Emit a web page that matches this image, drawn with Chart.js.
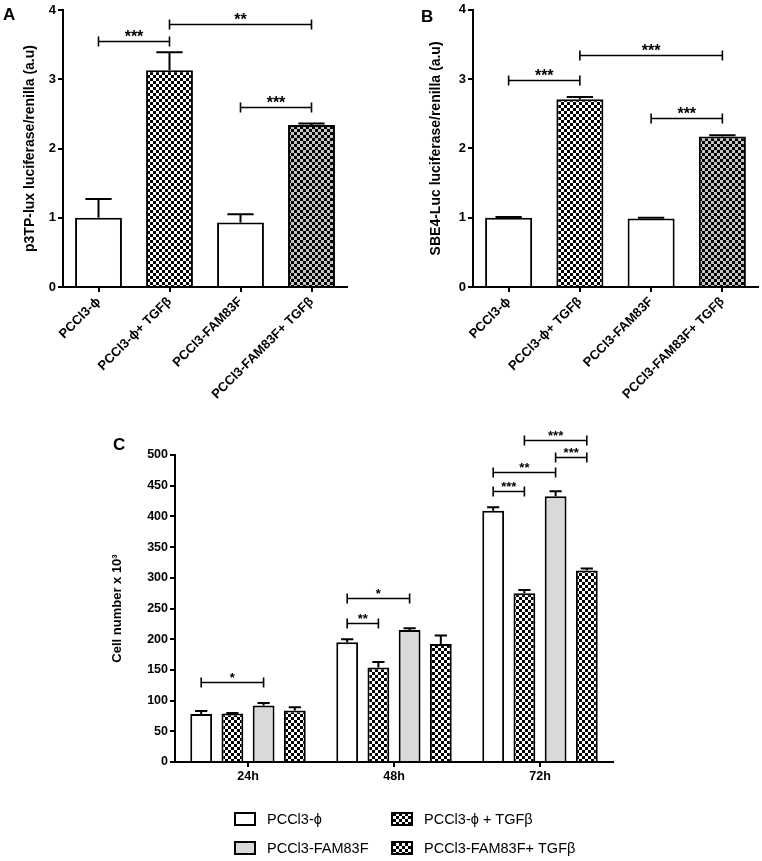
<!DOCTYPE html>
<html>
<head>
<meta charset="utf-8">
<script src="https://cdn.jsdelivr.net/npm/chart.js@4.4.1/dist/chart.umd.min.js"></script>
<style>
  html, body { margin: 0; padding: 0; background: #fff; }
  #wrap { position: relative; width: 762px; height: 861px; overflow: hidden; }
  canvas { position: absolute; }
  .tag { position: absolute; font: bold 17px "Liberation Sans", Arial, sans-serif; color: #000; }
</style>
</head>
<body>
<div id="wrap">
  <canvas id="chartA" width="381" height="450" style="left:0;top:0;width:381px;height:450px"></canvas>
  <canvas id="chartB" width="381" height="450" style="left:381px;top:0;width:381px;height:450px"></canvas>
  <canvas id="chartC" width="762" height="441" style="left:0;top:420px;width:762px;height:441px"></canvas>
  <div class="tag" style="left:3px;top:5px">A</div>
  <div class="tag" style="left:421px;top:7px">B</div>
  <div class="tag" style="left:113px;top:435px">C</div>
</div>
<script>
// ---- data ----
const groupsAB = ["PCCl3-ϕ", "PCCl3-ϕ+ TGFβ", "PCCl3-FAM83F", "PCCl3-FAM83F+ TGFβ"];
const valuesA = [1.00, 3.13, 0.93, 2.34];
const errorsA = [0.27, 0.26, 0.12, 0.02];
const valuesB = [1.00, 2.71, 0.99, 2.17];
const errorsB = [0.01, 0.03, 0.01, 0.02];
// [from, to, height, stars]
const sigA = [[0, 1, 3.55, "***"], [1, 3, 3.80, "**"], [2, 3, 2.60, "***"]];
const sigB = [[0, 1, 2.99, "***"], [1, 3, 3.35, "***"], [2, 3, 2.44, "***"]];

const timesC = ["24h", "48h", "72h"];
const seriesC = ["PCCl3-ϕ", "PCCl3-ϕ + TGFβ", "PCCl3-FAM83F", "PCCl3-FAM83F+ TGFβ"];
const phi = [78, 195, 409];
const phiErr = [5, 5, 6];
const phiTgf = [79, 154, 275];
const phiTgfErr = [1, 9, 5];
const fam = [92, 215, 433];
const famErr = [4, 3, 8];
const famTgf = [84, 192, 312];
const famTgfErr = [5, 14, 3];
// [time, series from, series to, height, stars]
const sigC = [
  [0, 0, 2, 130, "*"],
  [1, 0, 1, 227, "**"],
  [1, 0, 2, 267, "*"],
  [2, 0, 1, 441, "***"],
  [2, 0, 2, 473, "**"],
  [2, 2, 3, 496, "***"],
  [2, 1, 3, 524, "***"]
];

// ---- styles ----
const FONT = '"Liberation Sans", Arial, sans-serif';
Chart.defaults.font.family = FONT;
Chart.defaults.color = '#000';

function checker(light) {
  const c = document.createElement('canvas');
  c.width = 6; c.height = 6;
  const g = c.getContext('2d');
  g.fillStyle = light; g.fillRect(0, 0, 6, 6);
  g.fillStyle = '#000'; g.fillRect(0, 0, 3, 3); g.fillRect(3, 3, 3, 3);
  return g.createPattern(c, 'repeat');
}
const chkWhite = checker('#fff');
const chkGray = checker('#c4c4c4');

// error bars + significance brackets
const annotate = {
  id: 'annotate',
  afterDatasetsDraw(chart, args, opts) {
    const ctx = chart.ctx, y = chart.scales.y;
    ctx.save();
    ctx.strokeStyle = '#000';
    ctx.lineWidth = 2;
    opts.errors.forEach((errs, di) => {
      const meta = chart.getDatasetMeta(di);
      meta.data.forEach((bar, i) => {
        const top = y.getPixelForValue(chart.data.datasets[di].data[i] + errs[i]);
        const half = bar.width * 0.28;
        ctx.beginPath();
        ctx.moveTo(bar.x, bar.y);
        ctx.lineTo(bar.x, top);
        ctx.moveTo(bar.x - half, top);
        ctx.lineTo(bar.x + half, top);
        ctx.stroke();
      });
    });
    ctx.font = 'bold ' + opts.starSize + 'px ' + FONT;
    ctx.fillStyle = '#000';
    ctx.textAlign = 'center';
    ctx.textBaseline = 'alphabetic';
    opts.brackets.forEach(b => {
      const x1 = chart.getDatasetMeta(b.a[0]).data[b.a[1]].x;
      const x2 = chart.getDatasetMeta(b.b[0]).data[b.b[1]].x;
      const py = Math.round(y.getPixelForValue(b.v)) + 0.5;
      ctx.beginPath();
      ctx.lineWidth = 1.6;
      ctx.moveTo(x1, py); ctx.lineTo(x2, py);
      ctx.moveTo(x1, py - 5); ctx.lineTo(x1, py + 5);
      ctx.moveTo(x2, py - 5); ctx.lineTo(x2, py + 5);
      ctx.stroke();
      ctx.fillText(b.t, (x1 + x2) / 2, py + opts.starLift);
    });
    ctx.restore();
  }
};

function axisX(height, fontSize, rotate) {
  return {
    offset: true,
    afterFit(s) { s.height = height; },
    grid: { offset: false, drawOnChartArea: false, drawTicks: true, tickLength: 5, color: '#000', lineWidth: 2 },
    border: { display: true, color: '#000', width: 2 },
    ticks: { autoSkip: false, minRotation: rotate, maxRotation: rotate, padding: 2,
             font: { size: fontSize, weight: 'bold' }, color: '#000' }
  };
}
function axisY(width, max, step, title, titleSize, tickSize) {
  return {
    min: 0, max: max,
    afterFit(s) { s.width = width; },
    grid: { drawOnChartArea: false, drawTicks: true, tickLength: 5, color: '#000', lineWidth: 2 },
    border: { display: true, color: '#000', width: 2 },
    ticks: { stepSize: step, padding: 2, font: { size: tickSize, weight: 'bold' }, color: '#000' },
    title: { display: true, text: title, padding: { top: 0, bottom: 0 }, font: { size: titleSize, weight: 'bold' }, color: '#000' }
  };
}

function luciferaseChart(id, values, errors, sig, title, pad, yWidth) {
  return new Chart(document.getElementById(id), {
    type: 'bar',
    data: {
      labels: groupsAB,
      datasets: [{
        data: values,
        backgroundColor: ['#fff', chkWhite, '#fff', chkGray],
        borderColor: '#000',
        borderWidth: 2,
        borderSkipped: 'bottom',
        barPercentage: 1,
        categoryPercentage: 0.66
      }]
    },
    options: {
      responsive: false,
      animation: false,
      layout: { padding: pad },
      plugins: {
        legend: { display: false },
        tooltip: { enabled: false },
        annotate: {
          errors: [errors],
          brackets: sig.map(([i, j, v, t]) => ({ a: [0, i], b: [0, j], v: v, t: t })),
          starSize: 16,
          starLift: 0
        }
      },
      scales: {
        x: axisX(163, 13, 45),
        y: axisY(yWidth, 4, 1, title, 14, 13)
      }
    },
    plugins: [annotate]
  });
}

luciferaseChart('chartA', valuesA, errorsA, sigA, 'p3TP-lux luciferase/renilla (a.u)',
  { left: 22, top: 10, right: 34, bottom: 0 }, 41);
luciferaseChart('chartB', valuesB, errorsB, sigB, 'SBE4-Luc luciferase/renilla (a.u)',
  { left: 47, top: 9, right: 4, bottom: 0 }, 45);

// legend for panel C, two columns
const legendC = {
  id: 'legendC',
  afterDraw(chart) {
    const ctx = chart.ctx;
    const cols = [235, 392], rows = [393, 422];
    ctx.save();
    ctx.font = '14.5px ' + FONT;
    ctx.textBaseline = 'middle';
    ctx.textAlign = 'left';
    chart.data.datasets.forEach((ds, i) => {
      const x = cols[i % 2], yy = rows[Math.floor(i / 2)];
      ctx.fillStyle = ds.legendFill;
      ctx.fillRect(x, yy, 20, 12);
      ctx.strokeStyle = '#000';
      ctx.lineWidth = 2;
      ctx.strokeRect(x, yy, 20, 12);
      ctx.fillStyle = '#000';
      ctx.fillText(ds.label, x + 32, yy + 6.5);
    });
    ctx.restore();
  }
};

const cValues = [phi, phiTgf, fam, famTgf];
const cFills = ['#fff', chkWhite, '#d9d9d9', chkWhite];
new Chart(document.getElementById('chartC'), {
  type: 'bar',
  data: {
    labels: timesC,
    datasets: seriesC.map((name, i) => ({
      label: name,
      data: cValues[i],
      backgroundColor: cFills[i],
      legendFill: cFills[i],
      borderColor: '#000',
      borderWidth: 2,
      borderSkipped: 'bottom',
      barPercentage: 0.7,
      categoryPercentage: 0.855
    }))
  },
  options: {
    responsive: false,
    animation: false,
    layout: { padding: { left: 110, top: 35, right: 149, bottom: 0 } },
    plugins: {
      legend: { display: false },
      tooltip: { enabled: false },
      annotate: {
        errors: [phiErr, phiTgfErr, famErr, famTgfErr],
        brackets: sigC.map(([c, d1, d2, v, t]) => ({ a: [d1, c], b: [d2, c], v: v, t: t })),
        starSize: 13,
        starLift: -1
      }
    },
    scales: {
      x: axisX(99, 12.5, 0),
      y: axisY(65, 500, 50, 'Cell number x 10³', 13, 12.5)
    }
  },
  plugins: [annotate, legendC]
});
</script>
</body>
</html>
